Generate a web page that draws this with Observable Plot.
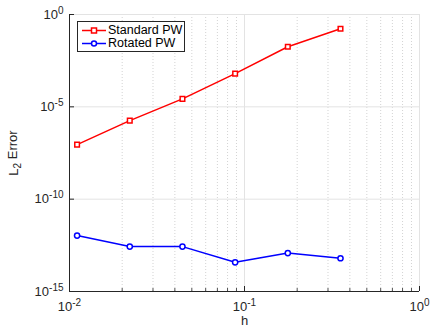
<!DOCTYPE html>
<html>
<head>
<meta charset="utf-8">
<script src="https://cdn.jsdelivr.net/npm/d3@7"></script>
<script src="https://cdn.jsdelivr.net/npm/@observablehq/plot@0.6"></script>
<style>
  html, body { margin: 0; padding: 0; background: white; }
  #wrap { position: relative; width: 431px; height: 326px; font-family: "Liberation Sans", Arial, sans-serif; }
  #legend { position: absolute; left: 77px; top: 21px; width: 108px; height: 31px; box-sizing: border-box;
    border: 1px solid #262626; background: white; font-size: 12.5px; color: #000; }
  #legend .row { position: absolute; left: 4px; height: 13px; display: flex; align-items: center; }
  #legend svg { display: block; }
  #legend span { margin-left: 1px; line-height: 13px; }
</style>
</head>
<body>
<div id="wrap"><div id="chart"></div><div id="legend"></div></div>
<script>
// Data
const hValues = [0.01105, 0.0221, 0.0442, 0.0884, 0.1768, 0.3536];
const standardPW = [9e-8, 1.8e-6, 2.7e-5, 6.3e-4, 1.8e-2, 0.17];
const rotatedPW = [1.07e-12, 2.7e-13, 2.7e-13, 3.8e-14, 1.2e-13, 6.3e-14];
const seriesNames = ["Standard PW", "Rotated PW"];
const seriesColors = ["#ff0000", "#0000ff"];
const xTicks = [0.01, 0.1, 1];
const xTickLabels = ["10^-2", "10^-1", "10^0"];
const yTicks = [1e-15, 1e-10, 1e-5, 1];
const yTickLabels = ["10^-15", "10^-10", "10^-5", "10^0"];
const xMinor = [0.02, 0.03, 0.04, 0.05, 0.06, 0.07, 0.08, 0.09, 0.2, 0.3, 0.4, 0.5, 0.6, 0.7, 0.8, 0.9];

const std = hValues.map((h, i) => ({h, e: standardPW[i]}));
const rot = hValues.map((h, i) => ({h, e: rotatedPW[i]}));

const W = 431, H = 326, mL = 69, mR = 12, mT = 14, mB = 35;
const fw = W - mL - mR, fh = H - mT - mB;
const axisColor = "#262626";
const fmtX = d => xTickLabels[xTicks.findIndex(v => Math.abs(Math.log10(v) - Math.log10(d)) < 1e-6)];
const fmtY = d => yTickLabels[yTicks.findIndex(v => Math.abs(Math.log10(v) - Math.log10(d)) < 1e-6)];

const chart = Plot.plot({
  width: W, height: H,
  marginLeft: mL, marginRight: mR, marginTop: mT, marginBottom: mB,
  x: {type: "log", domain: [0.01, 1]},
  y: {type: "log", domain: [1e-15, 1]},
  style: {fontFamily: "'Liberation Sans', Arial, sans-serif", fontSize: "13px", color: axisColor, background: "white", overflow: "visible"},
  marks: [
    Plot.ruleX(xMinor, {stroke: "#c8c8c8", strokeDasharray: "1,2", strokeWidth: 0.8}),
    Plot.ruleX(xTicks.slice(1), {stroke: "#e3e3e3", strokeWidth: 1}),
    Plot.ruleY(yTicks.slice(1), {stroke: "#e3e3e3", strokeWidth: 1}),
    // inward ticks
    Plot.ruleX(xTicks, {stroke: axisColor, insetTop: fh - 5}),
    Plot.ruleX(xMinor, {stroke: axisColor, insetTop: fh - 3, strokeWidth: 0.8}),
    Plot.ruleY(yTicks, {stroke: axisColor, insetRight: fw - 5}),
    // axis lines
    Plot.ruleX([xTicks[0]], {stroke: axisColor}),
    Plot.ruleY([yTicks[0]], {stroke: axisColor}),
    Plot.axisX(xTicks, {tickSize: 0, tickPadding: 10, fontSize: 13, tickFormat: fmtX,
      label: "h", labelAnchor: "center", labelOffset: 33, labelArrow: "none"}),
    Plot.axisY(yTicks, {tickSize: 0, tickPadding: 6, fontSize: 13, tickFormat: fmtY,
      label: "L_2 Error", labelAnchor: "center", labelOffset: 61, labelArrow: "none"}),
    Plot.line(std, {x: "h", y: "e", stroke: seriesColors[0], strokeWidth: 1.5}),
    Plot.dot(std, {x: "h", y: "e", symbol: "square", r: 2.6, stroke: seriesColors[0], strokeWidth: 1.5, fill: "white"}),
    Plot.line(rot, {x: "h", y: "e", stroke: seriesColors[1], strokeWidth: 1.5}),
    Plot.dot(rot, {x: "h", y: "e", symbol: "circle", r: 2.6, stroke: seriesColors[1], strokeWidth: 1.5, fill: "white"})
  ]
});
document.getElementById("chart").appendChild(chart);

const NS = "http://www.w3.org/2000/svg";
// superscripts in tick labels
chart.querySelectorAll('text').forEach(t => {
  const s = t.textContent;
  const m = s.match(/^(\d+)\^(.+)$/);
  if (!m) return;
  t.textContent = "";
  const a = document.createElementNS(NS, "tspan");
  a.textContent = m[1];
  const b = document.createElementNS(NS, "tspan");
  b.textContent = m[2];
  b.setAttribute("dy", "-0.5em");
  b.setAttribute("font-size", "10px");
  t.appendChild(a); t.appendChild(b);
});
// subscript in y label
chart.querySelectorAll('text').forEach(t => {
  const s = t.textContent;
  const m = s.match(/^(\w)_(\d) (.+)$/);
  if (!m) return;
  t.textContent = "";
  const a = document.createElementNS(NS, "tspan");
  a.textContent = m[1];
  const b = document.createElementNS(NS, "tspan");
  b.textContent = m[2]; b.setAttribute("dy", "0.35em"); b.setAttribute("font-size", "10px");
  const c = document.createElementNS(NS, "tspan");
  c.textContent = " " + m[3]; c.setAttribute("dy", "-0.35em");
  t.appendChild(a); t.appendChild(b); t.appendChild(c);
});

// legend
const legend = document.getElementById("legend");
seriesNames.forEach((name, i) => {
  const row = document.createElement("div");
  row.className = "row";
  row.style.top = (2 + i * 13) + "px";
  const marker = i === 0
    ? `<rect x="9.5" y="4" width="5" height="5" fill="white" stroke="${seriesColors[i]}" stroke-width="1.5"/>`
    : `<circle cx="12" cy="6.5" r="2.5" fill="white" stroke="${seriesColors[i]}" stroke-width="1.5"/>`;
  row.innerHTML = `<svg width="25" height="13"><line x1="0" x2="24" y1="6.5" y2="6.5" stroke="${seriesColors[i]}" stroke-width="1.5"/>${marker}</svg><span>${name}</span>`;
  legend.appendChild(row);
});
</script>
</body>
</html>
